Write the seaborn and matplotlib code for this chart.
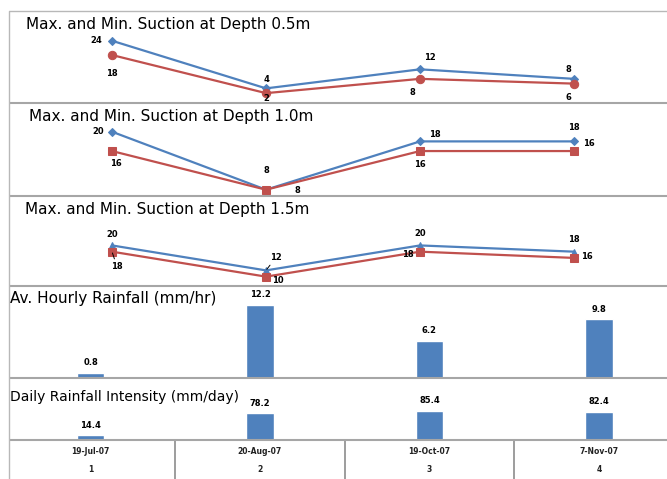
import numpy as np
import pandas as pd
import matplotlib
matplotlib.use("Agg")
import matplotlib.pyplot as plt
from matplotlib.lines import Line2D
import seaborn as sns

# ---------------- data ----------------
dates = ["19-Jul-07", "20-Aug-07", "19-Oct-07", "7-Nov-07"]
event_ids = ["1", "2", "3", "4"]
max_05 = [24, 4, 12, 8]
min_05 = [18, 2, 8, 6]
max_10 = [20, 8, 18, 18]
min_10 = [16, 8, 16, 16]
max_15 = [20, 12, 20, 18]
min_15 = [18, 10, 18, 16]
hourly = [0.8, 12.2, 6.2, 9.8]
daily = [14.4, 78.2, 85.4, 82.4]

titles = ["Max. and Min. Suction at Depth 0.5m",
          "Max. and Min. Suction at Depth 1.0m",
          "Max. and Min. Suction at Depth 1.5m",
          "Av. Hourly Rainfall (mm/hr)",
          "Daily Rainfall Intensity (mm/day)"]

# ---------------- style ----------------
sns.set_theme(style="white")
plt.rcParams["font.family"] = ["DejaVu Sans"]
BLUE = "#4F81BD"
RED = "#C0504D"
GRID = "#a6a6a6"
W, H = 667, 479

fig = plt.figure(figsize=(W / 100, H / 100), dpi=100)
fig.patch.set_facecolor("white")


def rect(x0, y0, x1, y1):
    return [x0 / W, 1 - y1 / H, (x1 - x0) / W, (y1 - y0) / H]


def hline(y, x0=8.5, x1=W, color=GRID, lw=1.5):
    fig.add_artist(Line2D([x0 / W, x1 / W], [1 - y / H, 1 - y / H],
                          color=color, lw=lw, solid_capstyle="butt"))


idx = np.arange(len(dates))

# label offsets in pixels (dx, dy) for max / min series per panel
line_panels = [
    dict(mx=max_05, mn=min_05, band=(10.5, 102.5), ylim=(-1.93, 36.7),
         mmark="D", nmark="o", msz=4.5, nsz=6,
         moff=[(-16, 0), (0, 9), (10, 12), (-6, 9)],
         noff=[(0, -18), (0, -5), (-8, -14), (-6, -14)],
         mlead=[False] * 4, nlead=[False] * 4),
    dict(mx=max_10, mn=min_10, band=(102.5, 195.5), ylim=(6.8, 26.05),
         mmark="D", nmark="s", msz=4.5, nsz=5.5,
         moff=[(-14, 0), (0, 19), (15, 7), (0, 14)],
         noff=[(4, -12), (31, -1), (0, -13), (15, 8)],
         mlead=[False] * 4, nlead=[False] * 4),
    dict(mx=max_15, mn=min_15, band=(195.5, 286), ylim=(7.0, 36.0),
         mmark="^", nmark="s", msz=5, nsz=5.5,
         moff=[(0, 11), (10, 13), (0, 12), (0, 12)],
         noff=[(5, -15), (12, -4), (-12, -3), (13, 1)],
         mlead=[False, True, False, False], nlead=[True, False, False, False]),
]

for p in line_panels:
    y0, y1 = p["band"]
    ax = fig.add_axes(rect(35, y0, 651, y1))
    ax.set_axis_off()
    for vals, col, mk, sz, offs, leads in [
        (p["mx"], BLUE, p["mmark"], p["msz"], p["moff"], p["mlead"]),
        (p["mn"], RED, p["nmark"], p["nsz"], p["noff"], p["nlead"]),
    ]:
        sns.lineplot(x=idx, y=vals, ax=ax, color=col, marker=mk,
                     markersize=sz, markeredgecolor=col, linewidth=1.6,
                     legend=False)
        for i, v in enumerate(vals):
            kw = {}
            if leads[i]:
                kw["arrowprops"] = dict(arrowstyle="-", lw=0.7, color="black",
                                        shrinkA=0, shrinkB=1)
            ax.annotate(str(v), (i, v), xytext=offs[i],
                        textcoords="offset pixels", ha="center", va="center",
                        fontsize=6, fontweight="bold", color="black", **kw)
    ax.set_xlim(-0.5, 3.5)
    ax.set_ylim(*p["ylim"])

# bar panels
bar_panels = [
    dict(vals=hourly, band=(286, 377.5), ylim=(0, 15.35)),
    dict(vals=daily, band=(377.5, 440), ylim=(0, 182)),
]
for p in bar_panels:
    y0, y1 = p["band"]
    ax = fig.add_axes(rect(5.75, y0, 683.75, y1))
    ax.set_axis_off()
    df = pd.DataFrame({"date": dates, "val": p["vals"]})
    sns.barplot(data=df, x="date", y="val", ax=ax, color=BLUE, saturation=1,
                width=0.165, order=dates)
    for i, v in enumerate(p["vals"]):
        ax.annotate(str(v), (i, v), xytext=(0, 10), textcoords="offset pixels",
                    ha="center", va="center", fontsize=6, fontweight="bold",
                    color="black")
    ax.set_xlim(-0.5, 3.5)
    ax.set_ylim(*p["ylim"])

# category table
tax = fig.add_axes(rect(5.75, 440, 683.75, 479))
tax.set_axis_off()
tax.set_xlim(-0.5, 3.5)
tax.set_ylim(39, 0)
for i in idx:
    tax.text(i, 12, dates[i], ha="center", va="center", fontsize=5.5,
             fontweight="bold", color="#222222")
    tax.text(i, 29.7, event_ids[i], ha="center", va="center", fontsize=5.5,
             fontweight="bold", color="#222222")
for b in idx[:-1] + 0.5:
    tax.axvline(b, color="#8c8c8c", lw=1.2)

# frame and separators
hline(10.5, color="#b8b8b8", lw=1.0)
for y in [102.5, 195.5, 286, 377.5, 440]:
    hline(y)
fig.add_artist(Line2D([8.5 / W, 8.5 / W], [1 - 10.5 / H, 0],
                      color="#b8b8b8", lw=1.0))

# titles
title_pos = [(26, 25), (29, 116), (25, 209), (10, 299), (10, 397)]
title_size = [11, 11, 11, 11, 10]
for t, (x, y), fs in zip(titles, title_pos, title_size):
    fig.text(x / W, 1 - y / H, t, ha="left", va="center", fontsize=fs,
             color="black")

fig.savefig("out.png", dpi=100, facecolor="white")
